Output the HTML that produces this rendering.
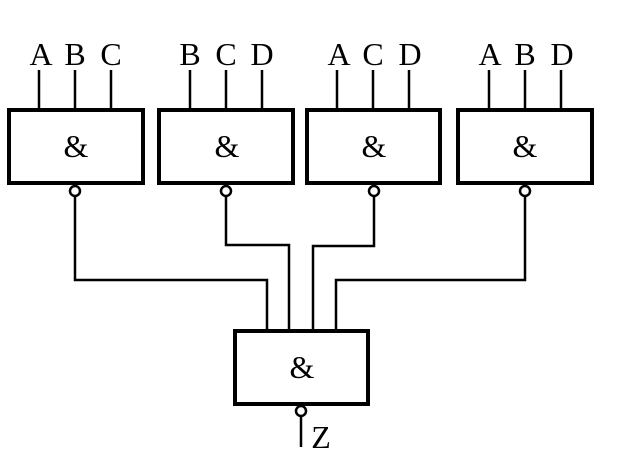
<!DOCTYPE html>
<html><head><style>html,body{margin:0;padding:0;background:#fff;}svg{display:block}</style></head>
<body>
<svg width="618" height="469" viewBox="0 0 618 469" xmlns="http://www.w3.org/2000/svg">
<g fill="none" stroke="#000" stroke-width="2.5">
<line x1="39" y1="70" x2="39" y2="109"/><line x1="75" y1="70" x2="75" y2="109"/><line x1="111" y1="70" x2="111" y2="109"/>
<line x1="190" y1="70" x2="190" y2="109"/><line x1="226" y1="70" x2="226" y2="109"/><line x1="262" y1="70" x2="262" y2="109"/>
<line x1="337" y1="70" x2="337" y2="109"/><line x1="373" y1="70" x2="373" y2="109"/><line x1="409" y1="70" x2="409" y2="109"/>
<line x1="489" y1="70" x2="489" y2="109"/><line x1="525" y1="70" x2="525" y2="109"/><line x1="561" y1="70" x2="561" y2="109"/>
<polyline points="75,196 75,280 267,280 267,331"/>
<polyline points="226,196 226,245 289,245 289,331"/>
<polyline points="374,196 374,246 313,246 313,331"/>
<polyline points="525,196 525,280 336,280 336,331"/>
<line x1="301" y1="417" x2="301" y2="447"/>
</g>
<g fill="#fff" stroke="#000" stroke-width="4">
<rect x="9" y="110" width="134" height="73"/>
<rect x="159" y="110" width="134" height="73"/>
<rect x="307" y="110" width="133" height="73"/>
<rect x="458" y="110" width="134" height="73"/>
<rect x="235" y="331" width="133" height="73"/>
</g>
<g fill="#fff" stroke="#000" stroke-width="2.5">
<circle cx="75" cy="191" r="5"/><circle cx="226" cy="191" r="5"/><circle cx="374" cy="191" r="5"/><circle cx="525" cy="191" r="5"/><circle cx="301" cy="411" r="5"/>
</g>
<g font-family="Liberation Serif, serif" font-size="32" fill="#000" text-anchor="middle">
<text x="41" y="65">A</text><text x="75" y="65">B</text><text x="111" y="65">C</text>
<text x="190" y="65">B</text><text x="226" y="65">C</text><text x="262" y="65">D</text>
<text x="339" y="65">A</text><text x="373" y="65">C</text><text x="410" y="65">D</text>
<text x="490" y="65">A</text><text x="525" y="65">B</text><text x="562" y="65">D</text>
<text x="76" y="157">&amp;</text><text x="227" y="157">&amp;</text><text x="374" y="157">&amp;</text><text x="525" y="157">&amp;</text>
<text x="302" y="378">&amp;</text>
<text x="321" y="448">Z</text>
</g>
</svg>
</body></html>
